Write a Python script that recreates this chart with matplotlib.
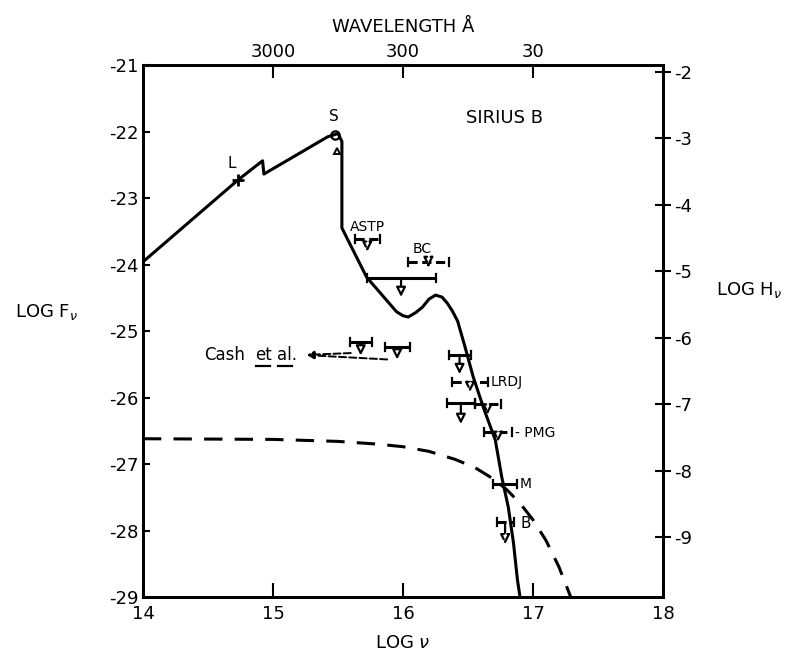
"""Flux distribution of Sirius B from the infrared to soft X-rays."""
import matplotlib

matplotlib.use("Agg")
import matplotlib.pyplot as plt

plt.rcParams["axes.unicode_minus"] = False

# model atmosphere flux (solid), log nu vs log F_nu
model_log_nu = [14.00, 14.73, 14.92, 14.93, 15.42, 15.50, 15.53, 15.53, 15.72,
                15.95, 16.00, 16.04, 16.10, 16.15, 16.20, 16.25, 16.30, 16.34,
                16.38, 16.42, 16.48, 16.54, 16.62, 16.71, 16.76, 16.81, 16.85,
                16.88, 16.90]
model_log_f = [-23.96, -22.73, -22.44, -22.64, -22.08, -22.03, -22.15, -23.45,
               -24.19, -24.71, -24.77, -24.79, -24.72, -24.64, -24.52, -24.46,
               -24.49, -24.58, -24.70, -24.85, -25.26, -25.69, -26.16, -26.64,
               -27.20, -27.65, -28.19, -28.74, -29.00]

# hot corona spectrum (dashed)
corona_log_nu = [14.0, 15.0, 15.5, 15.8, 16.0, 16.2, 16.4, 16.55, 16.7, 16.8,
                 16.9, 17.0, 17.1, 17.2, 17.29]
corona_log_f = [-26.62, -26.63, -26.66, -26.70, -26.74, -26.81, -26.93, -27.05,
                -27.23, -27.39, -27.59, -27.84, -28.15, -28.55, -29.00]

# upper limits: band edges, flux level, arrow tip (None = detection)
limit_lo = [15.63, 16.04, 15.72, 15.59, 15.86, 16.35, 16.38, 16.34, 16.55,
            16.62, 16.69, 16.72]
limit_hi = [15.82, 16.35, 16.25, 15.76, 16.05, 16.52, 16.65, 16.55, 16.75,
            16.84, 16.88, 16.85]
limit_f = [-23.62, -23.96, -24.20, -25.17, -25.24, -25.36, -25.77, -26.08,
           -26.10, -26.52, -27.30, -27.87]
limit_tip = [-23.85, -24.08, -24.53, -25.41, -25.47, -25.69, -25.96, -26.44,
             -26.30, -26.71, None, -28.25]
limit_dashed = [True, True, False, False, False, False, True, False, True,
                True, False, True]

# photometric points
point_names = ["L", "S"]
point_log_nu = [14.73, 15.48]
point_log_f = [-22.73, -22.05]

wave_ticks = [15, 16, 17]
wave_labels = ["3000", "300", "30"]

LOG_H_OFFSET = 19.1


def _draw_limit(ax, x0, x1, y, tip, dashed):
    """Draw a band-limited flux bar, with a downward arrow for upper limits."""
    ls = (0, (3, 1.5)) if dashed else "-"
    ax.plot([x0, x1], [y, y], color="black", lw=2.2, ls=ls, solid_capstyle="butt")
    for xe in (x0, x1):
        ax.plot([xe, xe], [y - 0.06, y + 0.06], color="black", lw=1.6)
    if tip is not None:
        xm = 0.5 * (x0 + x1)
        ax.annotate(
            "",
            xy=(xm, tip),
            xytext=(xm, y),
            arrowprops=dict(arrowstyle="-|>", color="black", fc="white",
                            lw=1.6, mutation_scale=14,
                            ls="--" if dashed else "-"),
        )


fig = plt.figure(figsize=(7.97, 6.58), dpi=100)
fig.set_facecolor("white")
ax = fig.add_axes([0.1794, 0.0927, 0.6525, 0.8085])

ax.plot(model_log_nu, model_log_f, color="black", lw=2.2)
ax.plot(corona_log_nu, corona_log_f, color="black", lw=2.2, ls=(0, (6, 4)))

for x0, x1, y, tip, dashed in zip(limit_lo, limit_hi, limit_f, limit_tip, limit_dashed):
    _draw_limit(ax, x0, x1, y, tip, dashed)

ax.plot(point_log_nu[0], point_log_f[0], marker="+", ms=9, mew=2, color="black")
ax.plot(point_log_nu[1], point_log_f[1], marker="o", ms=6, mew=1.6,
        mfc="none", color="black")
ax.plot(point_log_nu[1] + 0.01, point_log_f[1] - 0.25, marker="^", ms=5,
        mew=1.4, mfc="none", color="black")
ax.text(point_log_nu[0] - 0.05, point_log_f[0] + 0.25, point_names[0],
        fontsize=11, ha="center", va="center")
ax.text(point_log_nu[1] - 0.01, point_log_f[1] + 0.28, point_names[1],
        fontsize=11, ha="center", va="center")

# labels of the individual observations
ax.text(16.78, -21.80, "SIRIUS B", fontsize=13, ha="center", va="center")
ax.text(15.73, -23.44, "ASTP", fontsize=10, ha="center", va="center")
ax.text(16.15, -23.76, "BC", fontsize=10, ha="center", va="center")
ax.text(16.80, -25.77, "LRDJ", fontsize=10, ha="center", va="center")
ax.text(16.86, -26.53, "- PMG", fontsize=10, ha="left", va="center")
ax.text(16.90, -27.30, "M", fontsize=10, ha="left", va="center")
ax.text(16.90, -27.90, "B", fontsize=11, ha="left", va="center")

ax.text(14.63, -25.36, "Cash", fontsize=12, ha="center", va="center")
ax.text(14.925, -25.36, "et", fontsize=12, ha="center", va="center")
ax.text(15.11, -25.36, "al.", fontsize=12, ha="center", va="center")
ax.plot([14.87, 14.98], [-25.52, -25.52], color="black", lw=1.6)
ax.plot([15.04, 15.15], [-25.52, -25.52], color="black", lw=1.6)
for xm, ym in ((15.62, -25.33), (15.90, -25.43)):
    ax.annotate("", xy=(15.24, -25.36), xytext=(xm, ym),
                arrowprops=dict(arrowstyle="-|>", color="black", lw=1.4,
                                ls="--", mutation_scale=10))

ax.set_xlim(14, 18)
ax.set_ylim(-29, -21)
ax.set_xticks([14, 15, 16, 17, 18])
ax.set_yticks(range(-29, -20))
ax.tick_params(axis="x", direction="in", length=10, width=1.5, labelsize=13, pad=6)
ax.tick_params(axis="y", direction="in", length=5, width=1.5, labelsize=13, pad=3)
for spine in ax.spines.values():
    spine.set_linewidth(2)

top = ax.secondary_xaxis("top")
top.set_xticks(wave_ticks)
top.set_xticklabels(wave_labels)
top.tick_params(direction="in", length=9, width=1.5, labelsize=13, pad=3)
top.set_xlabel("WAVELENGTH Å", fontsize=13, labelpad=8)

right = ax.twinx()
right.set_ylim(-29 + LOG_H_OFFSET, -21 + LOG_H_OFFSET)
right.set_yticks(range(-9, -1))
right.tick_params(direction="inout", length=12, width=1.5, labelsize=13, pad=2)
for spine in right.spines.values():
    spine.set_linewidth(2)

ax.set_xlabel(r"LOG $\nu$", fontsize=13, labelpad=8)
fig.text(0.059, 0.526, r"LOG F$_\nu$", fontsize=13, ha="center", va="center")
fig.text(0.940, 0.560, r"LOG H$_\nu$", fontsize=13, ha="center", va="center")

fig.savefig("out.png", dpi=100)
